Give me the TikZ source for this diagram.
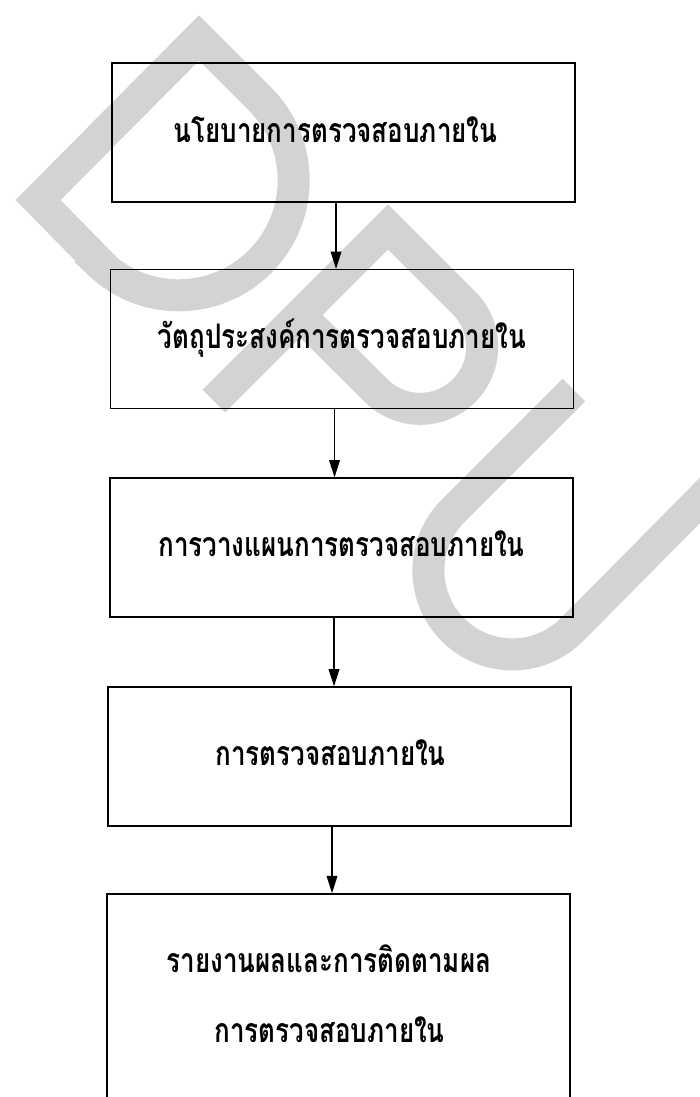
\documentclass[tikz,border=0pt]{standalone}
\usepackage{fontspec}
\newfontfamily\thaifont[Script=Thai]{Loma}
\usetikzlibrary{arrows.meta}

\definecolor{wmgray}{RGB}{211,211,211}
\newcommand{\tallthai}[1]{\scalebox{1}[1.3]{#1}}

\begin{document}
\begin{tikzpicture}[x=0.75pt,y=0.75pt,yscale=-1,xscale=1,
    box/.style={draw, line width=1.2pt, minimum width=347pt, minimum height=104pt, inner sep=0pt},
    boxtext/.style={anchor=base, inner sep=0.75pt, font=\thaifont\bfseries\fontsize{19.5}{24}\selectfont},
    flow/.style={-{Triangle[length=13pt,width=8pt]}, line width=1.1pt},
    wmark/.style={draw=wmgray, line width=24pt, line join=miter, line cap=butt}]
    \useasboundingbox (0,0) rectangle (700,1097);
    \clip (0,0) rectangle (700,1097);

    %Watermark D
    \draw[wmark] (98,261) -- (38,200) -- (199,38) -- (260,99) arc[start angle=-45,end angle=135,radius=115] -- cycle;
    %Watermark P
    \draw[wmark] (214,401) -- (388,227) -- (464,303) arc[start angle=-45,end angle=135,radius=62] -- (300,315);
    %Watermark U
    \draw[wmark] (574,390) -- (453,511) arc[start angle=225,end angle=45,radius=84] -- (740,460);

    %Shape: Rectangle
    \node[box] (b1) at (343.5,132.5) {};
    %Shape: Rectangle
    \node[box] (b2) at (342,339) {};
    %Shape: Rectangle
    \node[box] (b3) at (341.5,547.5) {};
    %Shape: Rectangle
    \node[box] (b4) at (339.5,756.5) {};
    %Shape: Rectangle
    \node[box, minimum height=157.5pt] (b5) at (338.5,999) {};

    % Text Node
    \node[boxtext] (t1) at (335.5,142) {\tallthai{นโยบายการตรวจสอบภายใน}};
    % Text Node
    \node[boxtext] (t2) at (342,348.5) {\tallthai{วัตถุประสงค์การตรวจสอบภายใน}};
    % Text Node
    \node[boxtext] (t3) at (341.5,556.5) {\tallthai{การวางแผนการตรวจสอบภายใน}};
    % Text Node
    \node[boxtext] (t4) at (330.5,765.5) {\tallthai{การตรวจสอบภายใน}};
    % Text Node
    \node[boxtext] (t5a) at (329,972.5) {\tallthai{รายงานผลและการติดตามผล}};
    % Text Node
    \node[boxtext] (t5b) at (329.5,1042.5) {\tallthai{การตรวจสอบภายใน}};

    %Straight Lines
    \coordinate (a1) at ([xshift=-5.6pt]b1.south);
    \coordinate (a2) at ([xshift=-5.6pt]b2.south);
    \coordinate (a3) at ([xshift=-5.6pt]b3.south);
    \coordinate (a4) at ([xshift=-5.6pt]b4.south);
    \draw[flow] (a1) -- (a1 |- b2.north);
    \draw[flow] (a2) -- (a2 |- b3.north);
    \draw[flow] (a3) -- (a3 |- b4.north);
    \draw[flow] (a4) -- (a4 |- b5.north);

\end{tikzpicture}
\end{document}
